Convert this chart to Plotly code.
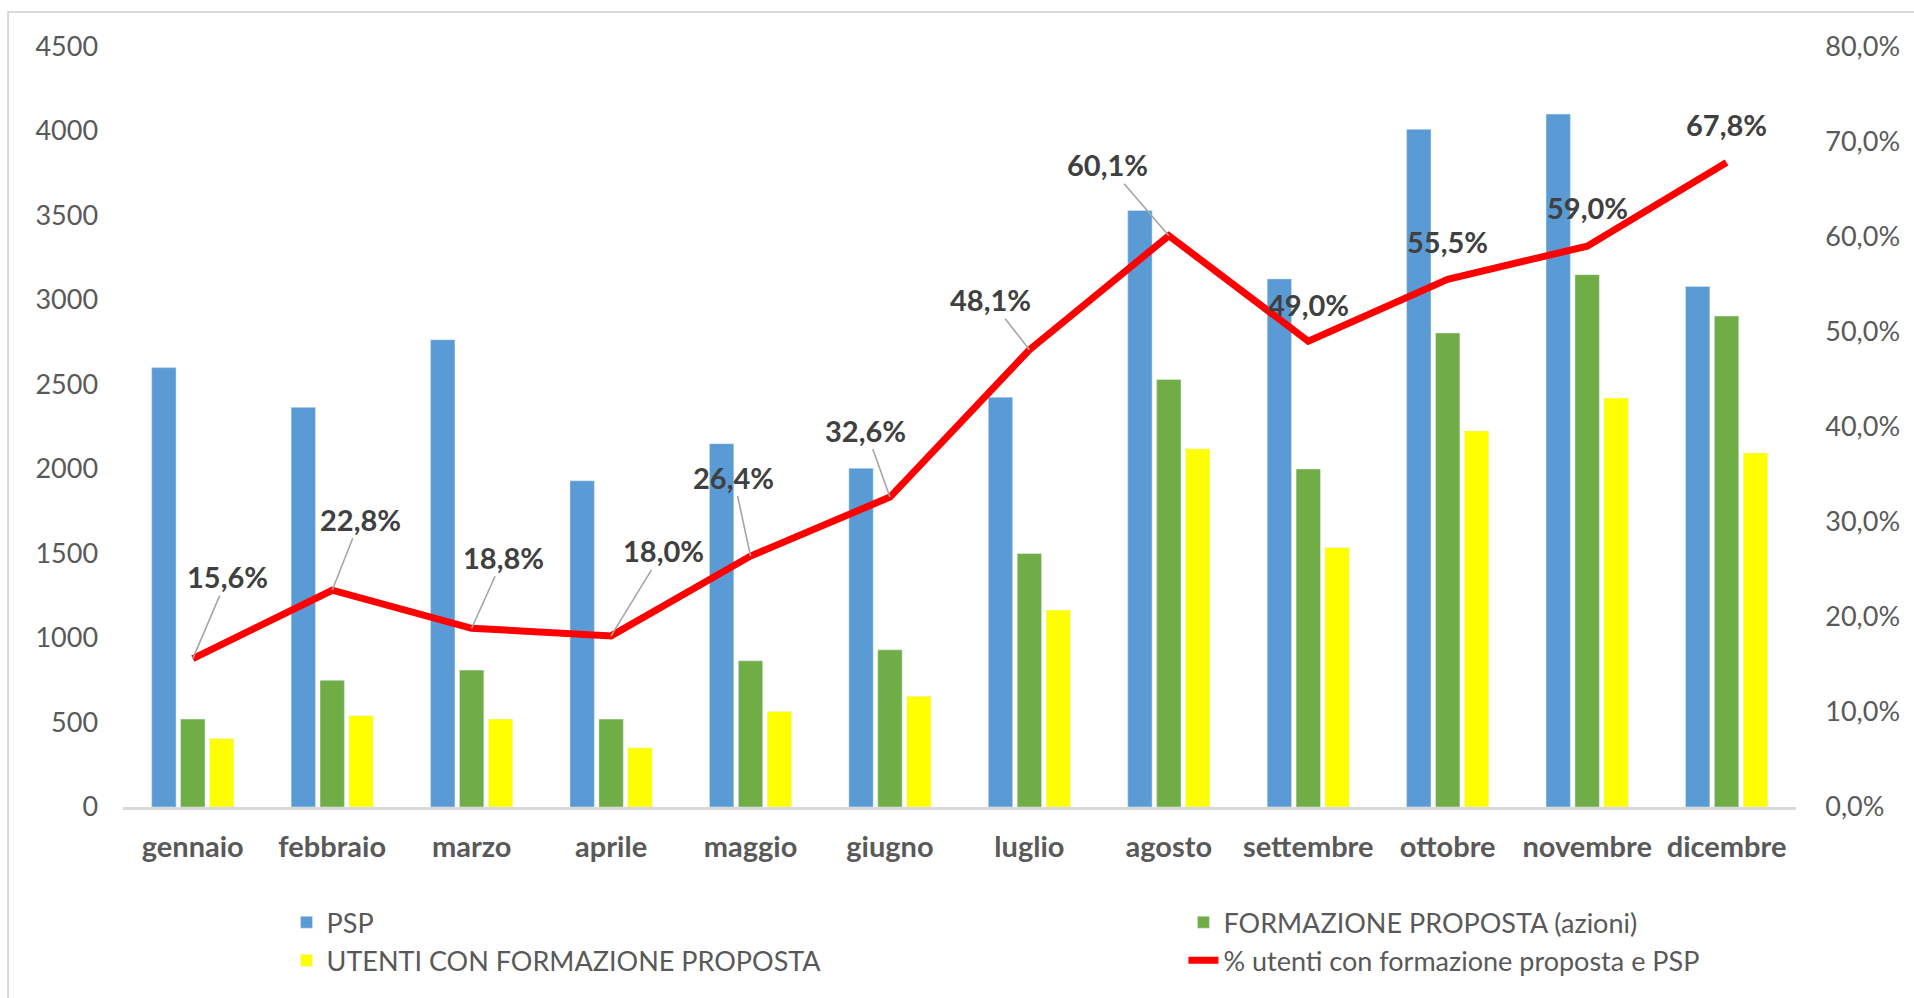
import plotly.graph_objects as go

mesi = ["gennaio", "febbraio", "marzo", "aprile", "maggio", "giugno",
        "luglio", "agosto", "settembre", "ottobre", "novembre", "dicembre"]
psp = [2600, 2365, 2765, 1930, 2150, 2005, 2425, 3530, 3125, 4010, 4100, 3080]
formazione = [520, 750, 810, 520, 865, 930, 1500, 2530, 2000, 2805, 3150, 2905]
utenti = [405, 540, 520, 350, 565, 655, 1165, 2120, 1535, 2225, 2420, 2095]
perc = [15.6, 22.8, 18.8, 18.0, 26.4, 32.6, 48.1, 60.1, 49.0, 55.5, 59.0, 67.8]

# label offsets (px) and whether a leader line is drawn
lab_dx = [35, 28, 32, 52, -17, -24, -39, -61, 0, 0, 0, 0]
lab_dy = [-82, -71, -71, -85, -79, -67, -50, -71, -37, -38, -39, -38]
leader = [True, True, True, True, True, True, True, True, False, False, False, False]

FONT = "Lato"
GREY = "#595959"

fig = go.Figure()
fig.add_trace(go.Bar(x=mesi, y=psp, name="PSP", marker_color="#5B9BD5", legend="legend"))
fig.add_trace(go.Bar(x=mesi, y=formazione, name="FORMAZIONE PROPOSTA (azioni)",
                     marker_color="#70AD47", legend="legend2"))
fig.add_trace(go.Bar(x=mesi, y=utenti, name="UTENTI CON FORMAZIONE PROPOSTA",
                     marker_color="#FFFF00", legend="legend"))
fig.add_trace(go.Scatter(x=mesi, y=[p / 100 for p in perc], yaxis="y2", mode="lines",
                         name="% utenti con formazione proposta e PSP",
                         line=dict(color="#FF0000", width=7), legend="legend2"))

for i, m in enumerate(mesi):
    fig.add_annotation(x=m, y=perc[i] / 100, xref="x", yref="y2",
                       text=f"{perc[i]:.1f}%".replace(".", ","),
                       showarrow=True, arrowhead=0, arrowwidth=1.6,
                       arrowcolor="#A6A6A6" if leader[i] else "rgba(0,0,0,0)",
                       ax=lab_dx[i], ay=lab_dy[i],
                       font=dict(family=FONT, size=29, color="#404040", weight="bold"))

# chart area border
fig.add_shape(type="rect", xref="paper", yref="paper", x0=0.0042, x1=1.02, y0=-0.02, y1=0.988,
              line=dict(color="#D9D9D9", width=2), layer="below")

fig.update_layout(
    width=1914, height=998,
    margin=dict(l=0, r=0, t=0, b=0),
    paper_bgcolor="white", plot_bgcolor="white",
    separators=",.",
    barmode="group", bargap=0.378, bargroupgap=0.156,
    font=dict(family=FONT, color=GREY),
    xaxis=dict(domain=[0.0643, 0.9385], showgrid=False, showline=True, linecolor="#D9D9D9",
               linewidth=2.5, ticks="", ticklabelstandoff=12, automargin=False,
               tickfont=dict(family=FONT, size=29, color=GREY, weight="bold")),
    yaxis=dict(domain=[0.1914, 0.9534], range=[0, 4500], tickvals=list(range(0, 4501, 500)),
               showgrid=False, zeroline=False, showline=False, ticks="", ticklabelstandoff=24,
               automargin=False, tickfont=dict(family=FONT, size=27, color=GREY)),
    yaxis2=dict(overlaying="y", side="right", range=[0, 0.8], tickformat=".1%",
                tickvals=[i / 10 for i in range(9)], showgrid=False, zeroline=False,
                ticks="", ticklabelstandoff=28, automargin=False,
                tickfont=dict(family=FONT, size=27, color=GREY)),
    legend=dict(x=0.1497, y=0.100, xanchor="left", yanchor="top", orientation="v",
                font=dict(family=FONT, size=27, color=GREY), bgcolor="rgba(0,0,0,0)"),
    legend2=dict(x=0.6183, y=0.100, xanchor="left", yanchor="top", orientation="v",
                 font=dict(family=FONT, size=27, color=GREY), bgcolor="rgba(0,0,0,0)"),
)

fig.write_html("out.html", config={"displayModeBar": False},
               post_script="document.body.style.margin='0';")
